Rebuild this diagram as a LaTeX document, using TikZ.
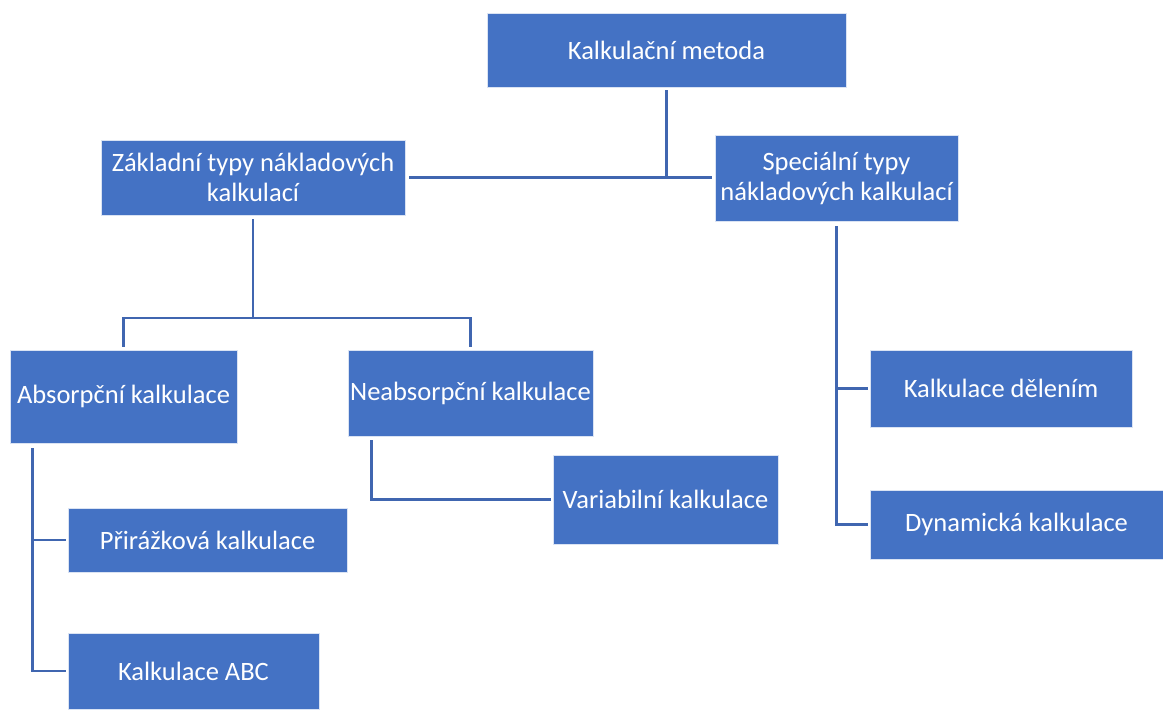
\documentclass[tikz,border=0pt]{standalone}
\usepackage{fontspec}
\setmainfont{Carlito}
\definecolor{boxblue}{HTML}{4472C4}
\definecolor{lineblue}{RGB}{64,102,176}
\begin{document}
\begin{tikzpicture}[x=1pt,y=-1pt,
  box/.style={fill=boxblue,draw=white!80!boxblue,line width=0.8pt,text=white,inner sep=0pt,align=center,
    font=\fontsize{26.5}{30}\selectfont},
  conn/.style={draw=lineblue,line width=2.6pt}]
\useasboundingbox (0,0) rectangle (1163,710);
\node[box,minimum width=359,minimum height=74] (top) at (666.5,50) {Kalkulační metoda};
\node[box,minimum width=304,minimum height=75] (zakl) at (253,177.5) {Základní typy nákladových\\kalkulací};
\node[box,minimum width=243,minimum height=86] (spec) at (836.5,178) {Speciální typy\\nákladových kalkulací};
\node[box,minimum width=227,minimum height=93] (abs) at (123.5,396.5) {Absorpční kalkulace};
\node[box,minimum width=245,minimum height=86] (neabs) at (470.5,393) {Neabsorpční kalkulace};
\node[box,minimum width=225,minimum height=89] (var) at (665.5,499.5) {Variabilní kalkulace};
\node[box,minimum width=279,minimum height=64] (pri) at (207.5,540) {Přirážková kalkulace};
\node[box,minimum width=251,minimum height=76] (abc) at (193.5,671) {Kalkulace ABC};
\node[box,minimum width=262,minimum height=77] (del) at (1001,388.5) {Kalkulace dělením};
\node[box,minimum width=293,minimum height=69] (dyn) at (1016.5,524.5) {Dynamická kalkulace};
% top
\draw[conn] ([yshift=-3pt]top.south) -- (top.south |- zakl.east);
\draw[conn] ([xshift=4pt]zakl.east) -- ([xshift=-3pt]spec.west |- zakl.east);
% zakladni
\coordinate (j1) at (253,318);
\draw[conn] ([yshift=-4pt]zakl.south) -- (j1);
\draw[conn] ([yshift=3pt]abs.north) -- (abs.north |- j1) -- (neabs.north |- j1) -- ([yshift=3pt]neabs.north);
% absorpcni
\coordinate (a1) at ([xshift=23pt,yshift=-5pt]abs.south west);
\draw[conn] (a1) -- (a1 |- abc.west) -- ([xshift=-2pt]abc.west);
\draw[conn] (a1 |- pri.west) -- ([xshift=-2pt]pri.west);
% neabsorpcni
\coordinate (n1) at ([xshift=24pt,yshift=-4pt]neabs.south west);
\draw[conn] (n1) -- (n1 |- var.west) -- ([xshift=-2pt]var.west);
% specialni
\draw[conn] ([yshift=-5pt]spec.south) -- (spec.south |- dyn.west) -- ([xshift=-2pt]dyn.west);
\draw[conn] (spec.south |- del.west) -- ([xshift=-2pt]del.west);
\end{tikzpicture}
\end{document}
